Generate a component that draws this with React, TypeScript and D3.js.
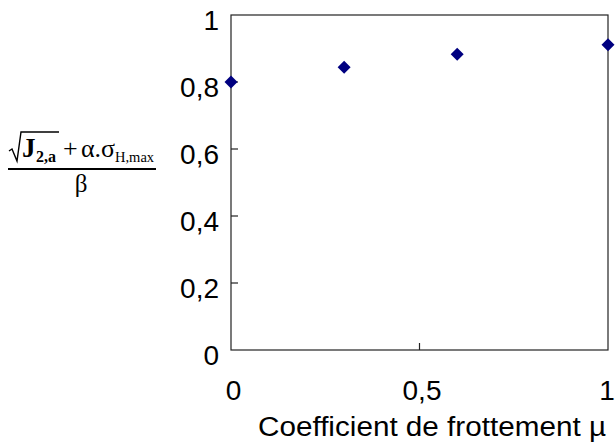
import React from "react";
import * as d3 from "d3";

const muValues = [0, 0.3, 0.6, 1];
const ratioValues = [0.8, 0.844, 0.883, 0.911];
const xTicks = [0, 0.5, 1];
const yTicks = [0, 0.2, 0.4, 0.6, 0.8, 1];
const xTitle = "Coefficient de frottement µ";

const W = 616;
const H = 448;
const left = 231;
const right = 608;
const top = 15;
const bottom = 350;

const fmt = (v: number) => String(v).replace(".", ",");

export default function App() {
  const x = d3.scaleLinear().domain([0, 1]).range([left, right]);
  const y = d3.scaleLinear().domain([0, 1]).range([bottom, top]);
  const sans = "'Liberation Sans', Arial, sans-serif";
  const serif = "'Liberation Serif', 'Times New Roman', serif";
  const diamond = (cx: number, cy: number, r: number) =>
    `M${cx},${cy - r}L${cx + r},${cy}L${cx},${cy + r}L${cx - r},${cy}Z`;

  return (
    <svg
      width={W}
      height={H}
      style={{ position: "absolute", left: 0, top: 0, background: "#fff" }}
    >
      <rect x={0} y={0} width={W} height={H} fill="#fff" />
      {/* plot frame */}
      <rect
        x={left}
        y={top}
        width={right - left}
        height={bottom - top}
        fill="none"
        stroke="#222"
        strokeWidth={1.2}
      />
      {/* y ticks (inward) */}
      {yTicks.slice(1, -1).map((t) => (
        <line key={"yt" + t} x1={left} x2={left + 7} y1={y(t)} y2={y(t)} stroke="#222" strokeWidth={1.2} />
      ))}
      {/* x ticks */}
      {xTicks.slice(1, -1).map((t) => (
        <line key={"xt" + t} x1={x(t)} x2={x(t)} y1={bottom} y2={bottom - 7} stroke="#222" strokeWidth={1.2} />
      ))}
      {/* y tick labels */}
      {yTicks.map((t) => (
        <text
          key={"yl" + t}
          x={219}
          y={y(t) + 14.5}
          textAnchor="end"
          fontFamily={sans}
          fontSize={28}
          fill="#000"
        >
          {fmt(t)}
        </text>
      ))}
      {/* x tick labels */}
      {xTicks.map((t) => (
        <text
          key={"xl" + t}
          x={Math.min(x(t) + 2.5, W - 9)}
          y={400}
          textAnchor="middle"
          fontFamily={sans}
          fontSize={28}
          fill="#000"
        >
          {fmt(t)}
        </text>
      ))}
      {/* x title */}
      <text
        x={258}
        y={436}
        fontFamily={sans}
        fontSize={27}
        textLength={348}
        lengthAdjust="spacingAndGlyphs"
        fill="#000"
      >
        {xTitle}
      </text>
      {/* y title: formula */}
      <g fill="#000" fontFamily={serif}>
        <path d="M9,151 L12,149 L17,161 L21,132 L59,132" fill="none" stroke="#000" strokeWidth={1.4} />
        <text x={22} y={157} fontSize={27} fontWeight="bold">J</text>
        <text x={36} y={162} fontSize={16} fontWeight="bold">2,a</text>
        <text x={63} y={157} fontSize={26}>+</text>
        <text x={81} y={157} fontSize={26}>α.σ</text>
        <text x={115} y={162} fontSize={14.5}>H,max</text>
        <line x1={8} x2={156} y1={169} y2={169} stroke="#000" strokeWidth={2} />
        <text x={81} y={192} fontSize={25} textAnchor="middle">β</text>
      </g>
      {/* markers */}
      {muValues.map((m, i) => (
        <path key={"pt" + i} d={diamond(x(m), y(ratioValues[i]), 6.5)} fill="#000080" />
      ))}
    </svg>
  );
}
